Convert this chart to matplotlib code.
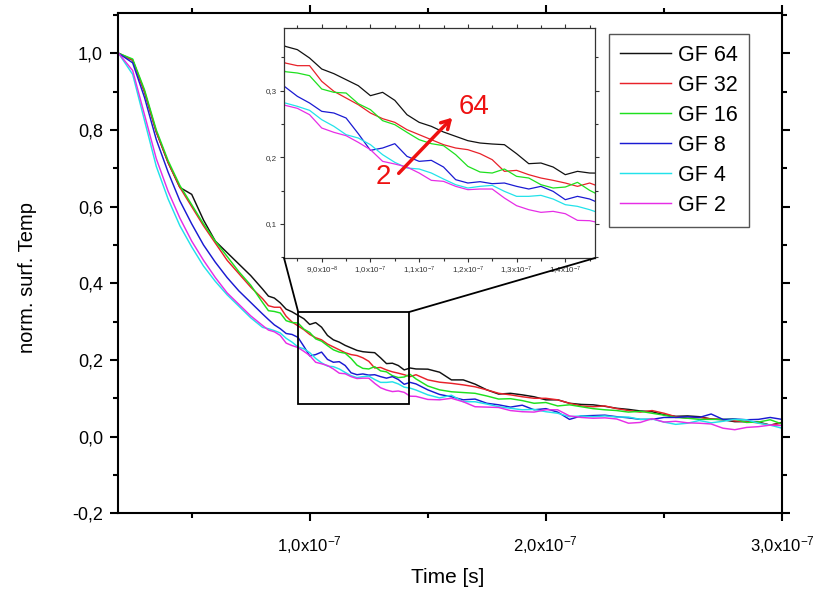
import numpy as np
import matplotlib
matplotlib.use('Agg')
import matplotlib.pyplot as plt
from matplotlib.ticker import MultipleLocator, FuncFormatter
from matplotlib.patches import Rectangle, ConnectionPatch

plt.rcParams['font.family'] = ['Liberation Sans', 'DejaVu Sans']
plt.rcParams['mathtext.fontset'] = 'custom'
plt.rcParams['mathtext.rm'] = 'Liberation Sans'
plt.rcParams['mathtext.default'] = 'regular'

# time axis in ns (finer steps in the zoomed range)
time_ns = [19, 25, 30, 35, 40, 45, 50, 55, 60, 65, 70, 75, 80,
           82.5, 85, 87.5, 90, 92.5, 95, 97.5, 100, 102.5, 105, 107.5, 110,
           112.5, 115, 117.5, 120, 122.5, 125, 127.5, 130, 132.5, 135, 137.5,
           140, 142.5, 145,
           150, 155, 160, 165, 170, 175, 180, 185, 190, 195, 200, 205, 210,
           215, 220, 225, 230, 235, 240, 245, 250, 255, 260, 265, 270, 275,
           280, 285, 290, 295, 300]

gf64 = [1.0, 0.982, 0.90, 0.795, 0.715, 0.65, 0.632, 0.565, 0.51, 0.48, 0.45, 0.42, 0.385,
        0.3665, 0.3615, 0.349, 0.3325, 0.3255, 0.3165, 0.3075, 0.2925, 0.2975, 0.2855, 0.264, 0.2525,
        0.2465, 0.238, 0.2315, 0.225, 0.2215, 0.22, 0.219, 0.2055, 0.1905, 0.1915, 0.1855,
        0.174, 0.179, 0.1765,
        0.176, 0.168, 0.148, 0.148, 0.137, 0.122, 0.111, 0.113, 0.109, 0.104, 0.096, 0.096, 0.087,
        0.084, 0.083, 0.079, 0.074, 0.071, 0.067, 0.065, 0.057, 0.053, 0.054, 0.052, 0.046, 0.044,
        0.039, 0.039, 0.038, 0.030, 0.037]
gf32 = [1.0, 0.982, 0.90, 0.795, 0.715, 0.65, 0.60, 0.55, 0.505, 0.46, 0.425, 0.39, 0.36,
        0.3415, 0.3375, 0.3375, 0.314, 0.299, 0.289, 0.279, 0.2665, 0.258, 0.2525, 0.2415, 0.234,
        0.2265, 0.219, 0.214, 0.2115, 0.2055, 0.1965, 0.179, 0.1805, 0.174, 0.169, 0.1655,
        0.1615, 0.1565, 0.1615,
        0.148, 0.142, 0.139, 0.135, 0.130, 0.122, 0.113, 0.109, 0.104, 0.100, 0.100, 0.096, 0.087,
        0.080, 0.078, 0.080, 0.073, 0.068, 0.064, 0.068, 0.061, 0.052, 0.048, 0.050, 0.046, 0.045,
        0.041, 0.039, 0.036, 0.030, 0.035]
gf16 = [1.0, 0.985, 0.905, 0.80, 0.72, 0.655, 0.605, 0.555, 0.51, 0.47, 0.43, 0.395, 0.35,
        0.3285, 0.3265, 0.3225, 0.3025, 0.2975, 0.2965, 0.2805, 0.2715, 0.255, 0.249, 0.2375, 0.2265,
        0.2205, 0.2175, 0.204, 0.1865, 0.178, 0.1765, 0.1825, 0.1715, 0.169, 0.159, 0.154,
        0.1555, 0.1625, 0.1505,
        0.132, 0.122, 0.117, 0.115, 0.113, 0.106, 0.098, 0.099, 0.094, 0.087, 0.089, 0.080, 0.083,
        0.078, 0.073, 0.070, 0.068, 0.064, 0.066, 0.061, 0.056, 0.050, 0.048, 0.045, 0.045, 0.045,
        0.046, 0.037, 0.038, 0.044, 0.033]
gf8 = [1.0, 0.975, 0.885, 0.775, 0.69, 0.615, 0.555, 0.50, 0.455, 0.415, 0.38, 0.35, 0.32,
       0.3055, 0.2915, 0.2815, 0.269, 0.2665, 0.259, 0.2355, 0.2105, 0.214, 0.2205, 0.2015, 0.194,
       0.1955, 0.1855, 0.1665, 0.1615, 0.1635, 0.1605, 0.1615, 0.1565, 0.1525, 0.1565, 0.149,
       0.1365, 0.1415, 0.1375,
       0.122, 0.110, 0.104, 0.096, 0.098, 0.087, 0.083, 0.077, 0.082, 0.070, 0.073, 0.064, 0.045,
       0.054, 0.055, 0.056, 0.052, 0.049, 0.045, 0.045, 0.050, 0.050, 0.052, 0.050, 0.059, 0.045,
       0.046, 0.044, 0.045, 0.050, 0.045]
gf4 = [1.0, 0.945, 0.825, 0.705, 0.62, 0.55, 0.495, 0.445, 0.405, 0.37, 0.34, 0.31, 0.285,
       0.2815, 0.2765, 0.2705, 0.2565, 0.2465, 0.234, 0.229, 0.219, 0.204, 0.1925, 0.184, 0.1825,
       0.1765, 0.1675, 0.159, 0.154, 0.1565, 0.158, 0.149, 0.1415, 0.1415, 0.143, 0.1375,
       0.129, 0.1265, 0.1215,
       0.109, 0.101, 0.108, 0.091, 0.091, 0.085, 0.078, 0.074, 0.070, 0.071, 0.065, 0.061, 0.052,
       0.054, 0.052, 0.054, 0.051, 0.051, 0.045, 0.046, 0.038, 0.032, 0.035, 0.042, 0.036, 0.040,
       0.045, 0.044, 0.035, 0.030, 0.022]
gf2 = [1.0, 0.955, 0.84, 0.725, 0.64, 0.57, 0.51, 0.46, 0.415, 0.375, 0.345, 0.315, 0.29,
       0.278, 0.2735, 0.264, 0.244, 0.2375, 0.2325, 0.2225, 0.2115, 0.194, 0.19, 0.1855, 0.1765,
       0.1655, 0.164, 0.1565, 0.1515, 0.1525, 0.1525, 0.139, 0.1275, 0.1215, 0.1175, 0.119,
       0.1155, 0.1055, 0.105,
       0.097, 0.096, 0.100, 0.091, 0.078, 0.077, 0.076, 0.068, 0.065, 0.064, 0.070, 0.070, 0.054,
       0.050, 0.048, 0.049, 0.046, 0.035, 0.037, 0.047, 0.038, 0.040, 0.036, 0.035, 0.033, 0.022,
       0.018, 0.024, 0.026, 0.030, 0.029]

labels = ['GF 64', 'GF 32', 'GF 16', 'GF 8', 'GF 4', 'GF 2']
colors = ['#111111', '#e8222a', '#1ee01e', '#1a1ad2', '#22e2ea', '#e62ee6']
series = [gf64, gf32, gf16, gf8, gf4, gf2]

t = np.array(time_ns) * 1e-9


def comma1(v, pos=None):
    return ('%.1f' % v).replace('.', ',')


def sci_comma(v, pos=None):
    if v == 0:
        return '0'
    e = int(np.floor(np.log10(abs(v)) + 1e-9))
    m = v / 10.0 ** e
    return ('%.1f' % m).replace('.', ',') + r'x10$^{%d}$' % e


fig = plt.figure(figsize=(8.19, 5.97), dpi=100)
ax = fig.add_axes([0.1444, 0.1402, 0.8104, 0.838])

for y, lab, c in zip(series, labels, colors):
    ax.plot(t, y, color=c, lw=1.05, label=lab)

ax.set_xlim(18.9e-9, 3.0e-7)
ax.set_ylim(-0.2, 1.105)
ax.xaxis.set_major_locator(MultipleLocator(1e-7))
ax.xaxis.set_minor_locator(MultipleLocator(0.5e-7))
ax.yaxis.set_major_locator(MultipleLocator(0.2))
ax.yaxis.set_minor_locator(MultipleLocator(0.1))
ax.xaxis.set_major_formatter(FuncFormatter(sci_comma))
ax.yaxis.set_major_formatter(FuncFormatter(comma1))
for s in ax.spines.values():
    s.set_linewidth(1.5)
ax.tick_params(which='both', direction='out', top=True, right=True, width=1.5)
ax.tick_params(which='major', length=6, pad=5)
ax.tick_params(which='minor', length=3.5)
ax.tick_params(axis='y', labelsize=13)
ax.tick_params(axis='x', labelsize=12, pad=9)

ax.set_xlabel('Time [s]', fontsize=15)
ax.set_ylabel('norm. surf. Temp', fontsize=14.5)
ax.xaxis.set_label_coords(0.4968, -0.11)
ax.yaxis.set_label_coords(-0.122, 0.471)

leg = ax.legend(loc='upper left', bbox_to_anchor=(0.7436, 0.943),
                bbox_transform=fig.transFigure, fontsize=15.5, frameon=True,
                fancybox=False, edgecolor='#555555', framealpha=1,
                handlelength=2.4, handletextpad=0.3, labelspacing=0.42,
                borderpad=0.5, borderaxespad=0)
leg.get_frame().set_linewidth(1.0)

# zoom box in the main plot
ax.add_patch(Rectangle((95.1e-9, 0.0861), 47.1e-9, 0.2392, fill=False,
                       edgecolor='black', lw=1.3, zorder=5))

# inset
axins = fig.add_axes([0.3468, 0.5678, 0.3797, 0.3853])
for y, c in zip(series, colors):
    axins.plot(t, y, color=c, lw=0.9)
axins.set_xlim(82.26e-9, 146.1e-9)
axins.set_ylim(0.049, 0.394)
axins.xaxis.set_major_locator(MultipleLocator(1e-8))
axins.xaxis.set_minor_locator(MultipleLocator(0.5e-8))
axins.yaxis.set_major_locator(MultipleLocator(0.1))
axins.yaxis.set_minor_locator(MultipleLocator(0.05))
axins.xaxis.set_major_formatter(FuncFormatter(sci_comma))
axins.yaxis.set_major_formatter(FuncFormatter(comma1))
for s in axins.spines.values():
    s.set_linewidth(0.9)
    s.set_color('#333333')
axins.tick_params(which='both', direction='out', top=True, right=True,
                  width=0.8, color='#333333', labelsize=5.8, labelcolor='#333333', pad=2)
axins.tick_params(which='major', length=3)
axins.tick_params(which='minor', length=2)

# arrow "2 -> 64"
axins.annotate('', xy=(117.2e-9, 0.2625), xytext=(105.4e-9, 0.173),
               arrowprops=dict(arrowstyle='->,head_length=0.6,head_width=0.35',
                               color='#ee1111', lw=2.5))
axins.text(121.3e-9, 0.2755, '64', color='#ee1111', fontsize=20,
           ha='center', va='center')
axins.text(102.65e-9, 0.170, '2', color='#ee1111', fontsize=20,
           ha='center', va='center')

# connector lines from the zoom box to the inset
for xa, xb in [(95.1e-9, 0), (142.2e-9, 1)]:
    con = ConnectionPatch(xyA=(xa, 0.3253), coordsA=ax.transData,
                          xyB=(xb, 0), coordsB=axins.transAxes,
                          color='black', lw=1.3)
    fig.add_artist(con)

fig.savefig('out.png', dpi=100)
